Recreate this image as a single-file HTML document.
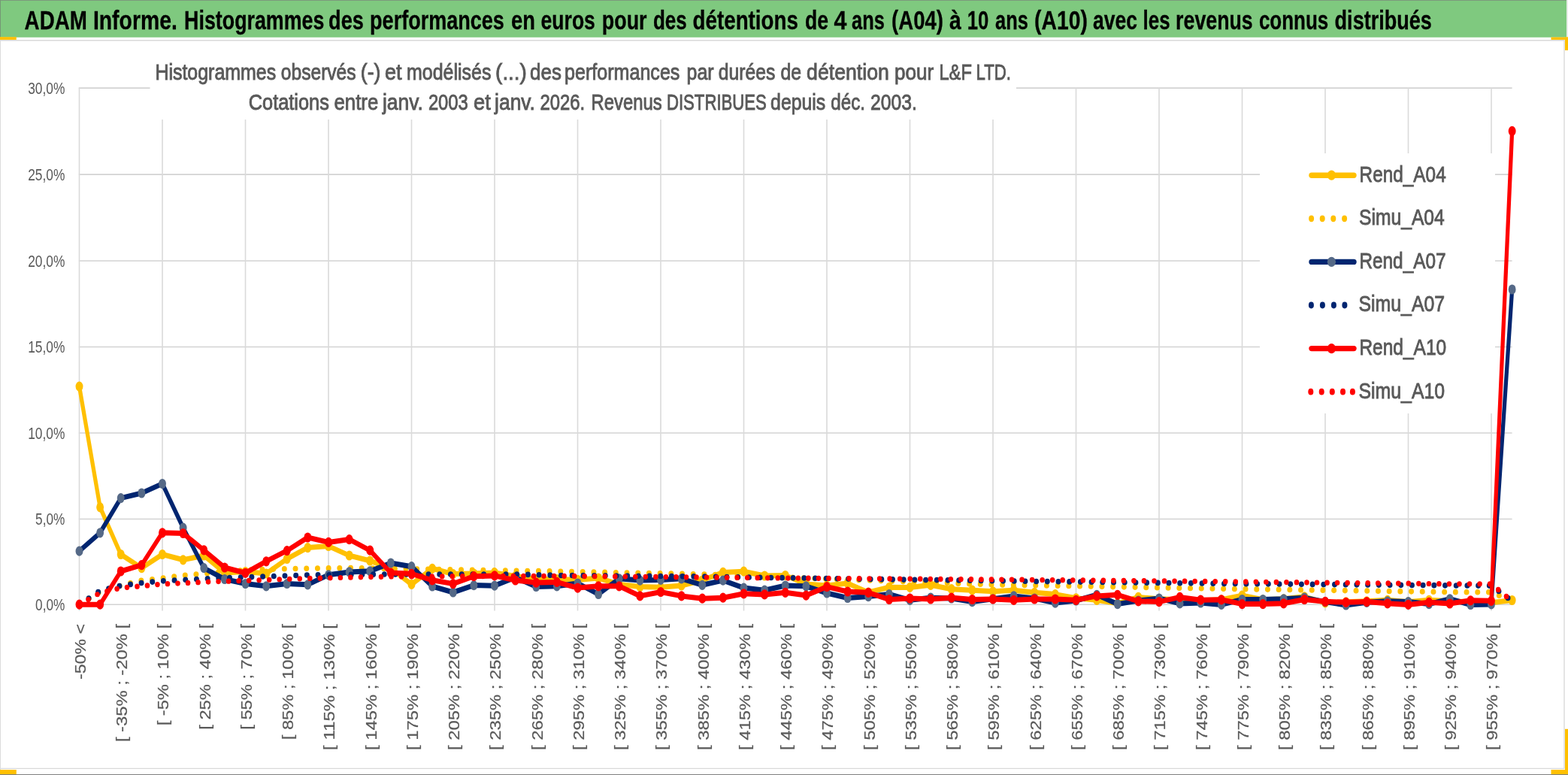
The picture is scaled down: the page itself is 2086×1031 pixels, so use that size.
<!DOCTYPE html><html lang="fr"><head><meta charset="utf-8"><title>ADAM Informe</title>
<style>html,body{margin:0;padding:0;background:#fff}svg{display:block}text{font-family:"Liberation Sans",sans-serif}</style></head><body>
<svg width="2086" height="1031" viewBox="0 0 2086 1031">
<rect width="2086" height="1031" fill="#fff"/>
<rect x="0" y="0" width="2084" height="49.7" fill="#7fc97f"/>
<rect x="0" y="0" width="2084" height="1" fill="#7c9a7c"/>
<rect x="0" y="0" width="1" height="49.7" fill="#759775"/>
<rect x="0" y="49.7" width="1" height="981" fill="#dcdcdc"/>
<rect x="2084" y="0" width="2" height="49.7" fill="#e8ece8"/>
<path d="M1 53.7H2081V1022.4H1" fill="none" stroke="#d9d9d9" stroke-width="1.4"/>
<rect x="0" y="49.2" width="21.8" height="3.7" fill="#ffc000"/>
<rect x="2063.5" y="49.5" width="22.5" height="3.4" fill="#ffc000"/>
<rect x="2082" y="49.5" width="4" height="17.4" fill="#ffc000"/>
<rect x="2082" y="969.8" width="4" height="61" fill="#ffc000"/>
<rect x="2063.5" y="1024" width="22.5" height="6.2" fill="#ffc000"/>
<rect x="0" y="1024" width="21.8" height="6.2" fill="#ffc000"/>
<rect x="0" y="1030" width="2086" height="1" fill="#7f7f7f"/>
<path d="M104.8 117.1H2011.6M104.8 232.1H2011.6M104.8 347.0H2011.6M104.8 461.5H2011.6M104.8 576.0H2011.6M104.8 690.5H2011.6M104.8 804.3H2011.6" fill="none" stroke="#d3d3d3" stroke-width="1.6"/>
<path d="M105.5 116.4V812.5M216.0 116.4V812.5M326.5 116.4V812.5M437.0 116.4V812.5M547.5 116.4V812.5M658.0 116.4V812.5M768.5 116.4V812.5M879.0 116.4V812.5M989.5 116.4V812.5M1100.0 116.4V812.5M1210.5 116.4V812.5M1321.0 116.4V812.5M1431.5 116.4V812.5M1542.0 116.4V812.5M1652.5 116.4V812.5M1763.0 116.4V812.5M1873.5 116.4V812.5M1984.0 116.4V812.5" fill="none" stroke="#dadada" stroke-width="1.6"/>
<rect x="199.5" y="70" width="1152.5" height="89" fill="#fff"/>
<rect x="1676" y="204" width="313" height="346" fill="#fff"/>
<g fill="none" stroke-linejoin="round" stroke-linecap="round">
<g transform="scale(0.75 1)"><polyline points="140.7,514.1 177.5,674.8 214.3,737.5 251.2,755.7 288.0,737.5 324.8,744.8 361.7,739.0 398.5,762.0 435.3,760.6 472.2,763.0 509.0,743.5 545.8,728.6 582.7,726.5 619.5,739.0 656.3,746.0 693.2,756.0 730.0,777.4 766.8,756.3 803.7,763.6 840.5,763.0 877.3,762.0 914.2,766.5 951.0,770.5 987.8,770.6 1024.7,771.4 1061.5,769.0 1098.3,777.5 1135.2,780.6 1172.0,781.3 1208.8,779.0 1245.7,772.0 1282.5,761.4 1319.3,760.2 1356.2,766.0 1393.0,765.5 1429.8,777.0 1466.7,779.0 1503.5,776.0 1540.3,788.0 1577.2,781.3 1614.0,781.4 1650.8,778.3 1687.7,783.7 1724.5,785.2 1761.3,786.8 1798.2,785.2 1835.0,788.3 1871.8,790.6 1908.7,795.8 1945.5,798.3 1982.3,802.8 2019.2,794.4 2056.0,796.8 2092.8,797.8 2129.7,798.8 2166.5,797.8 2203.3,792.1 2240.2,797.8 2277.0,796.8 2313.8,793.8 2350.7,801.8 2387.5,800.8 2424.3,799.8 2461.2,798.3 2498.0,800.8 2534.8,798.3 2571.7,799.8 2608.5,800.8 2645.3,801.8 2682.2,798.5" stroke="#ffc000" stroke-width="7.0"/>
<g fill="#ffc000" stroke="none"><circle cx="140.7" cy="514.1" r="6.6"/><circle cx="177.5" cy="674.8" r="6.6"/><circle cx="214.3" cy="737.5" r="6.6"/><circle cx="251.2" cy="755.7" r="6.6"/><circle cx="288.0" cy="737.5" r="6.6"/><circle cx="324.8" cy="744.8" r="6.6"/><circle cx="361.7" cy="739.0" r="6.6"/><circle cx="398.5" cy="762.0" r="6.6"/><circle cx="435.3" cy="760.6" r="6.6"/><circle cx="472.2" cy="763.0" r="6.6"/><circle cx="509.0" cy="743.5" r="6.6"/><circle cx="545.8" cy="728.6" r="6.6"/><circle cx="582.7" cy="726.5" r="6.6"/><circle cx="619.5" cy="739.0" r="6.6"/><circle cx="656.3" cy="746.0" r="6.6"/><circle cx="693.2" cy="756.0" r="6.6"/><circle cx="730.0" cy="777.4" r="6.6"/><circle cx="766.8" cy="756.3" r="6.6"/><circle cx="803.7" cy="763.6" r="6.6"/><circle cx="840.5" cy="763.0" r="6.6"/><circle cx="877.3" cy="762.0" r="6.6"/><circle cx="914.2" cy="766.5" r="6.6"/><circle cx="951.0" cy="770.5" r="6.6"/><circle cx="987.8" cy="770.6" r="6.6"/><circle cx="1024.7" cy="771.4" r="6.6"/><circle cx="1061.5" cy="769.0" r="6.6"/><circle cx="1098.3" cy="777.5" r="6.6"/><circle cx="1135.2" cy="780.6" r="6.6"/><circle cx="1172.0" cy="781.3" r="6.6"/><circle cx="1208.8" cy="779.0" r="6.6"/><circle cx="1245.7" cy="772.0" r="6.6"/><circle cx="1282.5" cy="761.4" r="6.6"/><circle cx="1319.3" cy="760.2" r="6.6"/><circle cx="1356.2" cy="766.0" r="6.6"/><circle cx="1393.0" cy="765.5" r="6.6"/><circle cx="1429.8" cy="777.0" r="6.6"/><circle cx="1466.7" cy="779.0" r="6.6"/><circle cx="1503.5" cy="776.0" r="6.6"/><circle cx="1540.3" cy="788.0" r="6.6"/><circle cx="1577.2" cy="781.3" r="6.6"/><circle cx="1614.0" cy="781.4" r="6.6"/><circle cx="1650.8" cy="778.3" r="6.6"/><circle cx="1687.7" cy="783.7" r="6.6"/><circle cx="1724.5" cy="785.2" r="6.6"/><circle cx="1761.3" cy="786.8" r="6.6"/><circle cx="1798.2" cy="785.2" r="6.6"/><circle cx="1835.0" cy="788.3" r="6.6"/><circle cx="1871.8" cy="790.6" r="6.6"/><circle cx="1908.7" cy="795.8" r="6.6"/><circle cx="1945.5" cy="798.3" r="6.6"/><circle cx="1982.3" cy="802.8" r="6.6"/><circle cx="2019.2" cy="794.4" r="6.6"/><circle cx="2056.0" cy="796.8" r="6.6"/><circle cx="2092.8" cy="797.8" r="6.6"/><circle cx="2129.7" cy="798.8" r="6.6"/><circle cx="2166.5" cy="797.8" r="6.6"/><circle cx="2203.3" cy="792.1" r="6.6"/><circle cx="2240.2" cy="797.8" r="6.6"/><circle cx="2277.0" cy="796.8" r="6.6"/><circle cx="2313.8" cy="793.8" r="6.6"/><circle cx="2350.7" cy="801.8" r="6.6"/><circle cx="2387.5" cy="800.8" r="6.6"/><circle cx="2424.3" cy="799.8" r="6.6"/><circle cx="2461.2" cy="798.3" r="6.6"/><circle cx="2498.0" cy="800.8" r="6.6"/><circle cx="2534.8" cy="798.3" r="6.6"/><circle cx="2571.7" cy="799.8" r="6.6"/><circle cx="2608.5" cy="800.8" r="6.6"/><circle cx="2645.3" cy="801.8" r="6.6"/><circle cx="2682.2" cy="798.5" r="6.6"/></g></g>
<polyline transform="scale(0.92 1)" points="114.7,804.3 144.7,787.1 174.7,779.1 204.8,772.2 234.8,769.3 264.8,765.4 294.8,763.1 324.9,760.8 354.9,758.5 384.9,757.3 414.9,756.7 445.0,756.2 475.0,755.9 505.0,755.5 535.1,756.0 565.1,756.4 595.1,756.9 625.1,757.3 655.2,757.8 685.2,758.3 715.2,758.7 745.2,759.2 775.3,759.6 805.3,760.1 835.3,760.6 865.4,761.2 895.4,761.8 925.4,762.3 955.4,762.9 985.5,763.4 1015.5,764.0 1045.5,765.0 1075.5,766.0 1105.6,767.0 1135.6,768.0 1165.6,769.1 1195.7,770.1 1225.7,771.1 1255.7,772.0 1285.7,773.0 1315.8,773.9 1345.8,774.9 1375.8,775.8 1405.8,776.8 1435.9,777.7 1465.9,778.2 1495.9,778.7 1526.0,779.2 1556.0,779.7 1586.0,780.2 1616.0,780.7 1646.1,781.2 1676.1,781.7 1706.1,782.2 1736.1,782.7 1766.2,783.2 1796.2,783.6 1826.2,784.0 1856.2,784.4 1886.3,784.8 1916.3,785.2 1946.3,785.6 1976.4,786.0 2006.4,786.4 2036.4,786.8 2066.4,787.2 2096.5,787.6 2126.5,787.7 2156.5,787.8 2186.5,799.7" stroke="#ffc000" stroke-width="7.6" stroke-dasharray="0 15.98"/>
<g transform="scale(0.75 1)"><polyline points="140.7,733.2 177.5,708.8 214.3,662.6 251.2,656.0 288.0,643.5 324.8,702.2 361.7,755.7 398.5,770.5 435.3,776.5 472.2,779.8 509.0,776.5 545.8,777.8 582.7,764.8 619.5,760.9 656.3,759.8 693.2,749.0 730.0,753.7 766.8,780.0 803.7,788.0 840.5,778.6 877.3,779.2 914.2,768.2 951.0,780.5 987.8,779.8 1024.7,776.0 1061.5,790.5 1098.3,769.8 1135.2,772.1 1172.0,771.4 1208.8,769.8 1245.7,778.3 1282.5,772.1 1319.3,782.1 1356.2,785.2 1393.0,779.0 1429.8,779.8 1466.7,789.0 1503.5,795.5 1540.3,793.6 1577.2,790.5 1614.0,798.3 1650.8,795.2 1687.7,796.0 1724.5,800.6 1761.3,796.8 1798.2,792.9 1835.0,796.0 1871.8,802.1 1908.7,799.0 1945.5,791.3 1982.3,803.6 2019.2,799.0 2056.0,796.0 2092.8,802.9 2129.7,802.0 2166.5,804.4 2203.3,797.5 2240.2,797.5 2277.0,796.8 2313.8,795.2 2350.7,800.6 2387.5,805.0 2424.3,801.3 2461.2,799.8 2498.0,800.6 2534.8,803.6 2571.7,796.8 2608.5,804.5 2645.3,803.9 2682.2,385.0" stroke="#002570" stroke-width="7.0"/>
<g fill="#556987" stroke="none"><circle cx="140.7" cy="733.2" r="6.6"/><circle cx="177.5" cy="708.8" r="6.6"/><circle cx="214.3" cy="662.6" r="6.6"/><circle cx="251.2" cy="656.0" r="6.6"/><circle cx="288.0" cy="643.5" r="6.6"/><circle cx="324.8" cy="702.2" r="6.6"/><circle cx="361.7" cy="755.7" r="6.6"/><circle cx="398.5" cy="770.5" r="6.6"/><circle cx="435.3" cy="776.5" r="6.6"/><circle cx="472.2" cy="779.8" r="6.6"/><circle cx="509.0" cy="776.5" r="6.6"/><circle cx="545.8" cy="777.8" r="6.6"/><circle cx="582.7" cy="764.8" r="6.6"/><circle cx="619.5" cy="760.9" r="6.6"/><circle cx="656.3" cy="759.8" r="6.6"/><circle cx="693.2" cy="749.0" r="6.6"/><circle cx="730.0" cy="753.7" r="6.6"/><circle cx="766.8" cy="780.0" r="6.6"/><circle cx="803.7" cy="788.0" r="6.6"/><circle cx="840.5" cy="778.6" r="6.6"/><circle cx="877.3" cy="779.2" r="6.6"/><circle cx="914.2" cy="768.2" r="6.6"/><circle cx="951.0" cy="780.5" r="6.6"/><circle cx="987.8" cy="779.8" r="6.6"/><circle cx="1024.7" cy="776.0" r="6.6"/><circle cx="1061.5" cy="790.5" r="6.6"/><circle cx="1098.3" cy="769.8" r="6.6"/><circle cx="1135.2" cy="772.1" r="6.6"/><circle cx="1172.0" cy="771.4" r="6.6"/><circle cx="1208.8" cy="769.8" r="6.6"/><circle cx="1245.7" cy="778.3" r="6.6"/><circle cx="1282.5" cy="772.1" r="6.6"/><circle cx="1319.3" cy="782.1" r="6.6"/><circle cx="1356.2" cy="785.2" r="6.6"/><circle cx="1393.0" cy="779.0" r="6.6"/><circle cx="1429.8" cy="779.8" r="6.6"/><circle cx="1466.7" cy="789.0" r="6.6"/><circle cx="1503.5" cy="795.5" r="6.6"/><circle cx="1540.3" cy="793.6" r="6.6"/><circle cx="1577.2" cy="790.5" r="6.6"/><circle cx="1614.0" cy="798.3" r="6.6"/><circle cx="1650.8" cy="795.2" r="6.6"/><circle cx="1687.7" cy="796.0" r="6.6"/><circle cx="1724.5" cy="800.6" r="6.6"/><circle cx="1761.3" cy="796.8" r="6.6"/><circle cx="1798.2" cy="792.9" r="6.6"/><circle cx="1835.0" cy="796.0" r="6.6"/><circle cx="1871.8" cy="802.1" r="6.6"/><circle cx="1908.7" cy="799.0" r="6.6"/><circle cx="1945.5" cy="791.3" r="6.6"/><circle cx="1982.3" cy="803.6" r="6.6"/><circle cx="2019.2" cy="799.0" r="6.6"/><circle cx="2056.0" cy="796.0" r="6.6"/><circle cx="2092.8" cy="802.9" r="6.6"/><circle cx="2129.7" cy="802.0" r="6.6"/><circle cx="2166.5" cy="804.4" r="6.6"/><circle cx="2203.3" cy="797.5" r="6.6"/><circle cx="2240.2" cy="797.5" r="6.6"/><circle cx="2277.0" cy="796.8" r="6.6"/><circle cx="2313.8" cy="795.2" r="6.6"/><circle cx="2350.7" cy="800.6" r="6.6"/><circle cx="2387.5" cy="805.0" r="6.6"/><circle cx="2424.3" cy="801.3" r="6.6"/><circle cx="2461.2" cy="799.8" r="6.6"/><circle cx="2498.0" cy="800.6" r="6.6"/><circle cx="2534.8" cy="803.6" r="6.6"/><circle cx="2571.7" cy="796.8" r="6.6"/><circle cx="2608.5" cy="804.5" r="6.6"/><circle cx="2645.3" cy="803.9" r="6.6"/><circle cx="2682.2" cy="385.0" r="6.6"/></g></g>
<polyline transform="scale(0.92 1)" points="114.7,804.3 144.7,786.0 174.7,779.1 204.8,775.4 234.8,772.9 264.8,771.4 294.8,769.9 324.9,768.9 354.9,767.9 384.9,766.9 414.9,765.9 445.0,764.9 475.0,764.7 505.0,764.4 535.1,764.2 565.1,764.0 595.1,764.0 625.1,764.0 655.2,764.0 685.2,764.0 715.2,764.0 745.2,764.0 775.3,764.7 805.3,765.4 835.3,765.6 865.4,765.8 895.4,766.0 925.4,766.3 955.4,766.5 985.5,766.7 1015.5,767.0 1045.5,767.4 1075.5,767.8 1105.6,768.3 1135.6,768.7 1165.6,769.1 1195.7,769.5 1225.7,770.0 1255.7,770.4 1285.7,770.8 1315.8,771.2 1345.8,771.5 1375.8,771.9 1405.8,772.3 1435.9,772.7 1465.9,773.0 1495.9,773.4 1526.0,773.7 1556.0,774.0 1586.0,774.4 1616.0,774.7 1646.1,775.0 1676.1,775.4 1706.1,775.7 1736.1,776.0 1766.2,776.4 1796.2,776.6 1826.2,776.8 1856.2,777.0 1886.3,777.3 1916.3,777.5 1946.3,777.7 1976.4,778.0 2006.4,778.2 2036.4,778.4 2066.4,778.6 2096.5,778.9 2126.5,779.1 2156.5,779.1 2186.5,799.7" stroke="#002570" stroke-width="7.6" stroke-dasharray="0 15.98"/>
<g transform="scale(0.75 1)"><polyline points="140.7,804.2 177.5,804.2 214.3,760.0 251.2,751.7 288.0,708.8 324.8,709.5 361.7,731.9 398.5,755.0 435.3,762.3 472.2,746.8 509.0,732.6 545.8,715.0 582.7,721.4 619.5,717.6 656.3,732.2 693.2,762.1 730.0,763.3 766.8,771.8 803.7,776.6 840.5,766.7 877.3,765.9 914.2,772.0 951.0,775.1 987.8,774.4 1024.7,782.1 1061.5,779.8 1098.3,779.8 1135.2,792.9 1172.0,787.5 1208.8,792.9 1245.7,796.2 1282.5,795.2 1319.3,789.8 1356.2,790.9 1393.0,788.3 1429.8,792.1 1466.7,780.6 1503.5,787.0 1540.3,788.3 1577.2,797.5 1614.0,796.0 1650.8,797.0 1687.7,795.2 1724.5,797.5 1761.3,797.0 1798.2,798.3 1835.0,797.0 1871.8,797.0 1908.7,798.3 1945.5,792.9 1982.3,791.3 2019.2,799.8 2056.0,800.6 2092.8,794.4 2129.7,798.2 2166.5,797.8 2203.3,803.6 2240.2,803.6 2277.0,802.8 2313.8,797.5 2350.7,800.3 2387.5,801.3 2424.3,800.6 2461.2,802.8 2498.0,804.4 2534.8,801.3 2571.7,803.0 2608.5,798.8 2645.3,799.3 2682.2,174.4" stroke="#ff0000" stroke-width="7.0"/>
<g fill="#ff0000" stroke="none"><circle cx="140.7" cy="804.2" r="6.6"/><circle cx="177.5" cy="804.2" r="6.6"/><circle cx="214.3" cy="760.0" r="6.6"/><circle cx="251.2" cy="751.7" r="6.6"/><circle cx="288.0" cy="708.8" r="6.6"/><circle cx="324.8" cy="709.5" r="6.6"/><circle cx="361.7" cy="731.9" r="6.6"/><circle cx="398.5" cy="755.0" r="6.6"/><circle cx="435.3" cy="762.3" r="6.6"/><circle cx="472.2" cy="746.8" r="6.6"/><circle cx="509.0" cy="732.6" r="6.6"/><circle cx="545.8" cy="715.0" r="6.6"/><circle cx="582.7" cy="721.4" r="6.6"/><circle cx="619.5" cy="717.6" r="6.6"/><circle cx="656.3" cy="732.2" r="6.6"/><circle cx="693.2" cy="762.1" r="6.6"/><circle cx="730.0" cy="763.3" r="6.6"/><circle cx="766.8" cy="771.8" r="6.6"/><circle cx="803.7" cy="776.6" r="6.6"/><circle cx="840.5" cy="766.7" r="6.6"/><circle cx="877.3" cy="765.9" r="6.6"/><circle cx="914.2" cy="772.0" r="6.6"/><circle cx="951.0" cy="775.1" r="6.6"/><circle cx="987.8" cy="774.4" r="6.6"/><circle cx="1024.7" cy="782.1" r="6.6"/><circle cx="1061.5" cy="779.8" r="6.6"/><circle cx="1098.3" cy="779.8" r="6.6"/><circle cx="1135.2" cy="792.9" r="6.6"/><circle cx="1172.0" cy="787.5" r="6.6"/><circle cx="1208.8" cy="792.9" r="6.6"/><circle cx="1245.7" cy="796.2" r="6.6"/><circle cx="1282.5" cy="795.2" r="6.6"/><circle cx="1319.3" cy="789.8" r="6.6"/><circle cx="1356.2" cy="790.9" r="6.6"/><circle cx="1393.0" cy="788.3" r="6.6"/><circle cx="1429.8" cy="792.1" r="6.6"/><circle cx="1466.7" cy="780.6" r="6.6"/><circle cx="1503.5" cy="787.0" r="6.6"/><circle cx="1540.3" cy="788.3" r="6.6"/><circle cx="1577.2" cy="797.5" r="6.6"/><circle cx="1614.0" cy="796.0" r="6.6"/><circle cx="1650.8" cy="797.0" r="6.6"/><circle cx="1687.7" cy="795.2" r="6.6"/><circle cx="1724.5" cy="797.5" r="6.6"/><circle cx="1761.3" cy="797.0" r="6.6"/><circle cx="1798.2" cy="798.3" r="6.6"/><circle cx="1835.0" cy="797.0" r="6.6"/><circle cx="1871.8" cy="797.0" r="6.6"/><circle cx="1908.7" cy="798.3" r="6.6"/><circle cx="1945.5" cy="792.9" r="6.6"/><circle cx="1982.3" cy="791.3" r="6.6"/><circle cx="2019.2" cy="799.8" r="6.6"/><circle cx="2056.0" cy="800.6" r="6.6"/><circle cx="2092.8" cy="794.4" r="6.6"/><circle cx="2129.7" cy="798.2" r="6.6"/><circle cx="2166.5" cy="797.8" r="6.6"/><circle cx="2203.3" cy="803.6" r="6.6"/><circle cx="2240.2" cy="803.6" r="6.6"/><circle cx="2277.0" cy="802.8" r="6.6"/><circle cx="2313.8" cy="797.5" r="6.6"/><circle cx="2350.7" cy="800.3" r="6.6"/><circle cx="2387.5" cy="801.3" r="6.6"/><circle cx="2424.3" cy="800.6" r="6.6"/><circle cx="2461.2" cy="802.8" r="6.6"/><circle cx="2498.0" cy="804.4" r="6.6"/><circle cx="2534.8" cy="801.3" r="6.6"/><circle cx="2571.7" cy="803.0" r="6.6"/><circle cx="2608.5" cy="798.8" r="6.6"/><circle cx="2645.3" cy="799.3" r="6.6"/><circle cx="2682.2" cy="174.4" r="6.6"/></g></g>
<polyline transform="scale(0.92 1)" points="114.7,804.3 144.7,788.7 174.7,782.1 204.8,779.6 234.8,777.0 264.8,775.7 294.8,774.3 324.9,773.3 354.9,772.4 384.9,771.4 414.9,770.4 445.0,769.5 475.0,768.9 505.0,768.2 535.1,767.6 565.1,767.0 595.1,766.9 625.1,766.8 655.2,766.7 685.2,766.6 715.2,766.5 745.2,766.4 775.3,766.4 805.3,766.3 835.3,766.5 865.4,766.8 895.4,767.0 925.4,767.3 955.4,767.5 985.5,767.8 1015.5,768.0 1045.5,768.3 1075.5,768.5 1105.6,768.8 1135.6,769.0 1165.6,769.2 1195.7,769.4 1225.7,769.6 1255.7,769.8 1285.7,769.9 1315.8,770.1 1345.8,770.3 1375.8,770.5 1405.8,770.7 1435.9,770.9 1465.9,771.1 1495.9,771.4 1526.0,771.6 1556.0,771.9 1586.0,772.1 1616.0,772.4 1646.1,772.6 1676.1,772.9 1706.1,773.1 1736.1,773.4 1766.2,773.6 1796.2,773.9 1826.2,774.2 1856.2,774.5 1886.3,774.8 1916.3,775.1 1946.3,775.4 1976.4,775.6 2006.4,775.9 2036.4,776.2 2066.4,776.5 2096.5,776.8 2126.5,776.8 2156.5,776.8 2186.5,799.7" stroke="#ff0000" stroke-width="7.2" stroke-dasharray="0 14.71"/>
</g>
<line x1="1745" x2="1801" y1="233.2" y2="233.2" stroke="#ffc000" stroke-width="7.4" stroke-linecap="round"/>
<ellipse cx="1771.4" cy="233.2" rx="5.6" ry="6.6" fill="#ffc000"/>
<ellipse cx="1744.6" cy="290.8" rx="3.5" ry="4.4" fill="#ffc000"/><ellipse cx="1759.2" cy="290.8" rx="3.5" ry="4.4" fill="#ffc000"/><ellipse cx="1773.8" cy="290.8" rx="3.5" ry="4.4" fill="#ffc000"/><ellipse cx="1788.6" cy="290.8" rx="3.5" ry="4.4" fill="#ffc000"/>
<line x1="1745" x2="1801" y1="348.4" y2="348.4" stroke="#002570" stroke-width="7.4" stroke-linecap="round"/>
<ellipse cx="1771.4" cy="348.4" rx="5.6" ry="6.6" fill="#556987"/>
<ellipse cx="1744.4" cy="406.0" rx="3.5" ry="4.4" fill="#002570"/><ellipse cx="1759.4" cy="406.0" rx="3.5" ry="4.4" fill="#002570"/><ellipse cx="1774.4" cy="406.0" rx="3.5" ry="4.4" fill="#002570"/><ellipse cx="1788.9" cy="406.0" rx="3.5" ry="4.4" fill="#002570"/>
<line x1="1745" x2="1801" y1="463.6" y2="463.6" stroke="#ff0000" stroke-width="7.4" stroke-linecap="round"/>
<ellipse cx="1771.4" cy="463.6" rx="5.6" ry="6.6" fill="#ff0000"/>
<ellipse cx="1743.8" cy="521.2" rx="3.5" ry="4.4" fill="#ff0000"/><ellipse cx="1758.2" cy="521.2" rx="3.5" ry="4.4" fill="#ff0000"/><ellipse cx="1772.3" cy="521.2" rx="3.5" ry="4.4" fill="#ff0000"/><ellipse cx="1786.5" cy="521.2" rx="3.5" ry="4.4" fill="#ff0000"/><ellipse cx="1799.4" cy="521.2" rx="3.5" ry="4.4" fill="#ff0000"/>
<text y="38.8" font-size="34.6" fill="#000" font-weight="bold" stroke="#000" stroke-width="0.3"><tspan x="32.6" textLength="83.3" lengthAdjust="spacingAndGlyphs">ADAM</tspan> <tspan x="123.9" textLength="112.0" lengthAdjust="spacingAndGlyphs">Informe.</tspan> <tspan x="245.1" textLength="186.3" lengthAdjust="spacingAndGlyphs">Histogrammes</tspan> <tspan x="437.1" textLength="46.8" lengthAdjust="spacingAndGlyphs">des</tspan> <tspan x="492.1" textLength="178.8" lengthAdjust="spacingAndGlyphs">performances</tspan> <tspan x="680.0" textLength="31.9" lengthAdjust="spacingAndGlyphs">en</tspan> <tspan x="719.6" textLength="72.3" lengthAdjust="spacingAndGlyphs">euros</tspan> <tspan x="800.8" textLength="59.8" lengthAdjust="spacingAndGlyphs">pour</tspan> <tspan x="868.9" textLength="44.8" lengthAdjust="spacingAndGlyphs">des</tspan> <tspan x="921.6" textLength="140.3" lengthAdjust="spacingAndGlyphs">détentions</tspan> <tspan x="1071.1" textLength="31.1" lengthAdjust="spacingAndGlyphs">de</tspan> <tspan x="1109.5" textLength="16.9" lengthAdjust="spacingAndGlyphs">4</tspan> <tspan x="1133.1" textLength="43.8" lengthAdjust="spacingAndGlyphs">ans</tspan> <tspan x="1186.1" textLength="68.8" lengthAdjust="spacingAndGlyphs">(A04)</tspan> <tspan x="1263.1" textLength="15.8" lengthAdjust="spacingAndGlyphs">à</tspan> <tspan x="1286.7" textLength="28.6" lengthAdjust="spacingAndGlyphs">10</tspan> <tspan x="1324.1" textLength="43.8" lengthAdjust="spacingAndGlyphs">ans</tspan> <tspan x="1376.1" textLength="70.8" lengthAdjust="spacingAndGlyphs">(A10)</tspan> <tspan x="1454.1" textLength="58.8" lengthAdjust="spacingAndGlyphs">avec</tspan> <tspan x="1520.6" textLength="36.0" lengthAdjust="spacingAndGlyphs">les</tspan> <tspan x="1564.1" textLength="102.6" lengthAdjust="spacingAndGlyphs">revenus</tspan> <tspan x="1674.9" textLength="92.4" lengthAdjust="spacingAndGlyphs">connus</tspan> <tspan x="1775.6" textLength="129.3" lengthAdjust="spacingAndGlyphs">distribués</tspan></text>
<text y="106" font-size="28.8" fill="#595959" font-weight="normal" stroke="#595959" stroke-width="0.9"><tspan x="206.4" textLength="160.8" lengthAdjust="spacingAndGlyphs">Histogrammes</tspan> <tspan x="373.8" textLength="99.8" lengthAdjust="spacingAndGlyphs">observés</tspan> <tspan x="479.8" textLength="26.5" lengthAdjust="spacingAndGlyphs">(-)</tspan> <tspan x="511.9" textLength="22.6" lengthAdjust="spacingAndGlyphs">et</tspan> <tspan x="541.1" textLength="112.3" lengthAdjust="spacingAndGlyphs">modélisés</tspan> <tspan x="659.1" textLength="41.8" lengthAdjust="spacingAndGlyphs">(...)</tspan> <tspan x="705.1" textLength="41.8" lengthAdjust="spacingAndGlyphs">des</tspan> <tspan x="751.1" textLength="153.3" lengthAdjust="spacingAndGlyphs">performances</tspan> <tspan x="913.6" textLength="36.0" lengthAdjust="spacingAndGlyphs">par</tspan> <tspan x="955.8" textLength="75.5" lengthAdjust="spacingAndGlyphs">durées</tspan> <tspan x="1038.4" textLength="27.7" lengthAdjust="spacingAndGlyphs">de</tspan> <tspan x="1073.1" textLength="109.8" lengthAdjust="spacingAndGlyphs">détention</tspan> <tspan x="1190.1" textLength="52.2" lengthAdjust="spacingAndGlyphs">pour</tspan> <tspan x="1249.4" textLength="43.5" lengthAdjust="spacingAndGlyphs">L&amp;F</tspan> <tspan x="1298.5" textLength="46.4" lengthAdjust="spacingAndGlyphs">LTD.</tspan></text>
<text y="146.2" font-size="28.8" fill="#595959" font-weight="normal" stroke="#595959" stroke-width="0.9"><tspan x="330.7" textLength="107.2" lengthAdjust="spacingAndGlyphs">Cotations</tspan> <tspan x="444.5" textLength="58.8" lengthAdjust="spacingAndGlyphs">entre</tspan> <tspan x="509.0" textLength="53.8" lengthAdjust="spacingAndGlyphs">janv.</tspan> <tspan x="569.9" textLength="52.9" lengthAdjust="spacingAndGlyphs">2003</tspan> <tspan x="630.1" textLength="22.8" lengthAdjust="spacingAndGlyphs">et</tspan> <tspan x="658.1" textLength="53.8" lengthAdjust="spacingAndGlyphs">janv.</tspan> <tspan x="718.5" textLength="59.7" lengthAdjust="spacingAndGlyphs">2026.</tspan> <tspan x="786.4" textLength="94.3" lengthAdjust="spacingAndGlyphs">Revenus</tspan> <tspan x="886.9" textLength="133.0" lengthAdjust="spacingAndGlyphs">DISTRIBUES</tspan> <tspan x="1025.1" textLength="73.1" lengthAdjust="spacingAndGlyphs">depuis</tspan> <tspan x="1105.3" textLength="45.8" lengthAdjust="spacingAndGlyphs">déc.</tspan> <tspan x="1158.1" textLength="61.8" lengthAdjust="spacingAndGlyphs">2003.</tspan></text>
<text y="241.5" font-size="29.5" fill="#595959" font-weight="normal" stroke="#595959" stroke-width="0.9"><tspan x="1808.6" textLength="115.1" lengthAdjust="spacingAndGlyphs">Rend_A04</tspan></text>
<text y="299.1" font-size="29.5" fill="#595959" font-weight="normal" stroke="#595959" stroke-width="0.9"><tspan x="1808.1" textLength="113.6" lengthAdjust="spacingAndGlyphs">Simu_A04</tspan></text>
<text y="356.7" font-size="29.5" fill="#595959" font-weight="normal" stroke="#595959" stroke-width="0.9"><tspan x="1808.4" textLength="115.2" lengthAdjust="spacingAndGlyphs">Rend_A07</tspan></text>
<text y="414.3" font-size="29.5" fill="#595959" font-weight="normal" stroke="#595959" stroke-width="0.9"><tspan x="1807.5" textLength="114.6" lengthAdjust="spacingAndGlyphs">Simu_A07</tspan></text>
<text y="471.9" font-size="29.5" fill="#595959" font-weight="normal" stroke="#595959" stroke-width="0.9"><tspan x="1808.4" textLength="115.8" lengthAdjust="spacingAndGlyphs">Rend_A10</tspan></text>
<text y="529.5" font-size="29.5" fill="#595959" font-weight="normal" stroke="#595959" stroke-width="0.9"><tspan x="1807.5" textLength="114.6" lengthAdjust="spacingAndGlyphs">Simu_A10</tspan></text>
<text y="124.6" font-size="22.2" fill="#595959" font-weight="normal" ><tspan x="37.2" textLength="49.2" lengthAdjust="spacingAndGlyphs">30,0%</tspan></text>
<text y="239.6" font-size="22.2" fill="#595959" font-weight="normal" ><tspan x="37.2" textLength="49.2" lengthAdjust="spacingAndGlyphs">25,0%</tspan></text>
<text y="354.5" font-size="22.2" fill="#595959" font-weight="normal" ><tspan x="37.2" textLength="49.2" lengthAdjust="spacingAndGlyphs">20,0%</tspan></text>
<text y="469.0" font-size="22.2" fill="#595959" font-weight="normal" ><tspan x="37.2" textLength="49.2" lengthAdjust="spacingAndGlyphs">15,0%</tspan></text>
<text y="583.5" font-size="22.2" fill="#595959" font-weight="normal" ><tspan x="37.2" textLength="49.2" lengthAdjust="spacingAndGlyphs">10,0%</tspan></text>
<text y="698.0" font-size="22.2" fill="#595959" font-weight="normal" ><tspan x="47.1" textLength="39.3" lengthAdjust="spacingAndGlyphs">5,0%</tspan></text>
<text y="811.8" font-size="22.2" fill="#595959" font-weight="normal" ><tspan x="47.1" textLength="39.3" lengthAdjust="spacingAndGlyphs">0,0%</tspan></text>
<text transform="translate(113.8 830) rotate(-90)" text-anchor="end" font-size="21" fill="#595959" stroke="#595959" stroke-width="0.2" textLength="74.0" lengthAdjust="spacingAndGlyphs">-50% &lt;</text>
<text transform="translate(169.1 830) rotate(-90)" text-anchor="end" font-size="21" fill="#595959" stroke="#595959" stroke-width="0.2" textLength="157.1" lengthAdjust="spacingAndGlyphs">[ -35% ; -20% [</text>
<text transform="translate(224.3 830) rotate(-90)" text-anchor="end" font-size="21" fill="#595959" stroke="#595959" stroke-width="0.2" textLength="135.3" lengthAdjust="spacingAndGlyphs">[ -5% ; 10% [</text>
<text transform="translate(279.6 830) rotate(-90)" text-anchor="end" font-size="21" fill="#595959" stroke="#595959" stroke-width="0.2" textLength="140.7" lengthAdjust="spacingAndGlyphs">[ 25% ; 40% [</text>
<text transform="translate(334.8 830) rotate(-90)" text-anchor="end" font-size="21" fill="#595959" stroke="#595959" stroke-width="0.2" textLength="140.7" lengthAdjust="spacingAndGlyphs">[ 55% ; 70% [</text>
<text transform="translate(390.1 830) rotate(-90)" text-anchor="end" font-size="21" fill="#595959" stroke="#595959" stroke-width="0.2" textLength="154.3" lengthAdjust="spacingAndGlyphs">[ 85% ; 100% [</text>
<text transform="translate(445.3 830) rotate(-90)" text-anchor="end" font-size="21" fill="#595959" stroke="#595959" stroke-width="0.2" textLength="167.9" lengthAdjust="spacingAndGlyphs">[ 115% ; 130% [</text>
<text transform="translate(500.6 830) rotate(-90)" text-anchor="end" font-size="21" fill="#595959" stroke="#595959" stroke-width="0.2" textLength="167.9" lengthAdjust="spacingAndGlyphs">[ 145% ; 160% [</text>
<text transform="translate(555.8 830) rotate(-90)" text-anchor="end" font-size="21" fill="#595959" stroke="#595959" stroke-width="0.2" textLength="167.9" lengthAdjust="spacingAndGlyphs">[ 175% ; 190% [</text>
<text transform="translate(611.0 830) rotate(-90)" text-anchor="end" font-size="21" fill="#595959" stroke="#595959" stroke-width="0.2" textLength="167.9" lengthAdjust="spacingAndGlyphs">[ 205% ; 220% [</text>
<text transform="translate(666.3 830) rotate(-90)" text-anchor="end" font-size="21" fill="#595959" stroke="#595959" stroke-width="0.2" textLength="167.9" lengthAdjust="spacingAndGlyphs">[ 235% ; 250% [</text>
<text transform="translate(721.5 830) rotate(-90)" text-anchor="end" font-size="21" fill="#595959" stroke="#595959" stroke-width="0.2" textLength="167.9" lengthAdjust="spacingAndGlyphs">[ 265% ; 280% [</text>
<text transform="translate(776.8 830) rotate(-90)" text-anchor="end" font-size="21" fill="#595959" stroke="#595959" stroke-width="0.2" textLength="167.9" lengthAdjust="spacingAndGlyphs">[ 295% ; 310% [</text>
<text transform="translate(832.0 830) rotate(-90)" text-anchor="end" font-size="21" fill="#595959" stroke="#595959" stroke-width="0.2" textLength="167.9" lengthAdjust="spacingAndGlyphs">[ 325% ; 340% [</text>
<text transform="translate(887.3 830) rotate(-90)" text-anchor="end" font-size="21" fill="#595959" stroke="#595959" stroke-width="0.2" textLength="167.9" lengthAdjust="spacingAndGlyphs">[ 355% ; 370% [</text>
<text transform="translate(942.5 830) rotate(-90)" text-anchor="end" font-size="21" fill="#595959" stroke="#595959" stroke-width="0.2" textLength="167.9" lengthAdjust="spacingAndGlyphs">[ 385% ; 400% [</text>
<text transform="translate(997.8 830) rotate(-90)" text-anchor="end" font-size="21" fill="#595959" stroke="#595959" stroke-width="0.2" textLength="167.9" lengthAdjust="spacingAndGlyphs">[ 415% ; 430% [</text>
<text transform="translate(1053.0 830) rotate(-90)" text-anchor="end" font-size="21" fill="#595959" stroke="#595959" stroke-width="0.2" textLength="167.9" lengthAdjust="spacingAndGlyphs">[ 445% ; 460% [</text>
<text transform="translate(1108.3 830) rotate(-90)" text-anchor="end" font-size="21" fill="#595959" stroke="#595959" stroke-width="0.2" textLength="167.9" lengthAdjust="spacingAndGlyphs">[ 475% ; 490% [</text>
<text transform="translate(1163.5 830) rotate(-90)" text-anchor="end" font-size="21" fill="#595959" stroke="#595959" stroke-width="0.2" textLength="167.9" lengthAdjust="spacingAndGlyphs">[ 505% ; 520% [</text>
<text transform="translate(1218.8 830) rotate(-90)" text-anchor="end" font-size="21" fill="#595959" stroke="#595959" stroke-width="0.2" textLength="167.9" lengthAdjust="spacingAndGlyphs">[ 535% ; 550% [</text>
<text transform="translate(1274.0 830) rotate(-90)" text-anchor="end" font-size="21" fill="#595959" stroke="#595959" stroke-width="0.2" textLength="167.9" lengthAdjust="spacingAndGlyphs">[ 565% ; 580% [</text>
<text transform="translate(1329.3 830) rotate(-90)" text-anchor="end" font-size="21" fill="#595959" stroke="#595959" stroke-width="0.2" textLength="167.9" lengthAdjust="spacingAndGlyphs">[ 595% ; 610% [</text>
<text transform="translate(1384.5 830) rotate(-90)" text-anchor="end" font-size="21" fill="#595959" stroke="#595959" stroke-width="0.2" textLength="167.9" lengthAdjust="spacingAndGlyphs">[ 625% ; 640% [</text>
<text transform="translate(1439.8 830) rotate(-90)" text-anchor="end" font-size="21" fill="#595959" stroke="#595959" stroke-width="0.2" textLength="167.9" lengthAdjust="spacingAndGlyphs">[ 655% ; 670% [</text>
<text transform="translate(1495.0 830) rotate(-90)" text-anchor="end" font-size="21" fill="#595959" stroke="#595959" stroke-width="0.2" textLength="167.9" lengthAdjust="spacingAndGlyphs">[ 685% ; 700% [</text>
<text transform="translate(1550.3 830) rotate(-90)" text-anchor="end" font-size="21" fill="#595959" stroke="#595959" stroke-width="0.2" textLength="167.9" lengthAdjust="spacingAndGlyphs">[ 715% ; 730% [</text>
<text transform="translate(1605.5 830) rotate(-90)" text-anchor="end" font-size="21" fill="#595959" stroke="#595959" stroke-width="0.2" textLength="167.9" lengthAdjust="spacingAndGlyphs">[ 745% ; 760% [</text>
<text transform="translate(1660.8 830) rotate(-90)" text-anchor="end" font-size="21" fill="#595959" stroke="#595959" stroke-width="0.2" textLength="167.9" lengthAdjust="spacingAndGlyphs">[ 775% ; 790% [</text>
<text transform="translate(1716.0 830) rotate(-90)" text-anchor="end" font-size="21" fill="#595959" stroke="#595959" stroke-width="0.2" textLength="167.9" lengthAdjust="spacingAndGlyphs">[ 805% ; 820% [</text>
<text transform="translate(1771.3 830) rotate(-90)" text-anchor="end" font-size="21" fill="#595959" stroke="#595959" stroke-width="0.2" textLength="167.9" lengthAdjust="spacingAndGlyphs">[ 835% ; 850% [</text>
<text transform="translate(1826.5 830) rotate(-90)" text-anchor="end" font-size="21" fill="#595959" stroke="#595959" stroke-width="0.2" textLength="167.9" lengthAdjust="spacingAndGlyphs">[ 865% ; 880% [</text>
<text transform="translate(1881.8 830) rotate(-90)" text-anchor="end" font-size="21" fill="#595959" stroke="#595959" stroke-width="0.2" textLength="167.9" lengthAdjust="spacingAndGlyphs">[ 895% ; 910% [</text>
<text transform="translate(1937.0 830) rotate(-90)" text-anchor="end" font-size="21" fill="#595959" stroke="#595959" stroke-width="0.2" textLength="167.9" lengthAdjust="spacingAndGlyphs">[ 925% ; 940% [</text>
<text transform="translate(1992.3 830) rotate(-90)" text-anchor="end" font-size="21" fill="#595959" stroke="#595959" stroke-width="0.2" textLength="167.9" lengthAdjust="spacingAndGlyphs">[ 955% ; 970% [</text>
</svg></body></html>
